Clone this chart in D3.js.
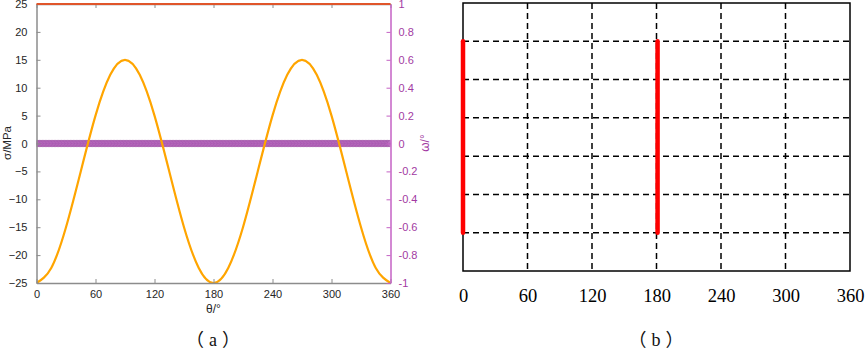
<!DOCTYPE html>
<html>
<head>
<meta charset="utf-8">
<script src="https://cdn.jsdelivr.net/npm/d3@7"></script>
<style>
  body { margin: 0; background: #fff; }
  svg { display: block; }
</style>
</head>
<body>
<svg id="chart" width="865" height="350"></svg>
<script>
// ---- data ----
const thetaTicks = [0, 60, 120, 180, 240, 300, 360];
const sigmaTicks = [-25, -20, -15, -10, -5, 0, 5, 10, 15, 20, 25];
const omegaTicks = [-1, -0.8, -0.6, -0.4, -0.2, 0, 0.2, 0.4, 0.6, 0.8, 1];

// orange stress curve, sampled every 15 degrees
const curveTheta = [0, 15, 30, 45, 60, 75, 90, 105, 120, 135, 150, 165, 180,
  195, 210, 225, 240, 255, 270, 285, 300, 315, 330, 345, 360];
const curveSigma = [-25, -22.3, -15, -5, 5, 12.3, 15, 12.3, 5, -5, -15, -22.3, -25,
  -22.3, -15, -5, 5, 12.3, 15, 12.3, 5, -5, -15, -22.3, -25];

// red-orange line along the top
const topTheta = [0, 360];
const topSigma = [25, 25];

// purple marker series (omega stays at 0)
const omegaStart = 0;
const omegaEnd = 360;
const omegaStep = 1.5;
const omegaValue = 0;

// panel (b)
const gridRows = [1, 2, 3, 4, 5, 6];
const redTheta = [0, 181];
const redFrom = [1, 1];
const redTo = [6, 6];

const svg = d3.select('#chart');

// ================= panel (a) =================
const a = { left: 36.5, right: 390.5, top: 4, bottom: 283 };
const xA = d3.scaleLinear().domain([0, 360]).range([a.left, a.right]);
const yA = d3.scaleLinear().domain([-25, 25]).range([a.bottom, a.top]);
const yW = d3.scaleLinear().domain([-1, 1]).range([a.bottom, a.top]);

const gray = '#8c8c8c';
const purpleAxis = '#c462c4';
const purpleText = '#a23aa2';
const sansFont = '"Liberation Sans", Arial, sans-serif';
const serifFont = '"Liberation Serif", "Times New Roman", serif';
const cjkFont = '"Noto Sans CJK SC", sans-serif';

// clip for the plot area of panel (a)
svg.append('defs').append('clipPath').attr('id', 'clipA')
  .append('rect')
  .attr('x', a.left).attr('y', a.top)
  .attr('width', a.right - a.left).attr('height', a.bottom - a.top);

const gA = svg.append('g');
const plotA = gA.append('g').attr('clip-path', 'url(#clipA)');

// Purple marker band at omega = 0
const omegaTheta = d3.range(omegaStart, omegaEnd + omegaStep / 2, omegaStep);
plotA.append('line')
  .attr('x1', xA(omegaStart)).attr('x2', xA(omegaEnd))
  .attr('y1', yW(omegaValue)).attr('y2', yW(omegaValue))
  .attr('stroke', '#7e2f8e').attr('stroke-width', 1.2);
plotA.append('g')
  .selectAll('circle')
  .data(omegaTheta)
  .join('circle')
  .attr('cx', (d) => xA(d))
  .attr('cy', yW(omegaValue))
  .attr('r', 3.3)
  .attr('fill', '#b86cbf')
  .attr('fill-opacity', 0.55)
  .attr('stroke', '#862c90')
  .attr('stroke-opacity', 0.45)
  .attr('stroke-width', 0.6);

// Orange curve
const curvePts = curveTheta.map((t, i) => [t, curveSigma[i]]);
plotA.append('path')
  .datum(curvePts)
  .attr('fill', 'none')
  .attr('stroke', '#ffa500')
  .attr('stroke-width', 2.2)
  .attr('d', d3.line().x((d) => xA(d[0])).y((d) => yA(d[1])).curve(d3.curveNatural));

// Bottom axis (ticks point inward)
const xAxisA = gA.append('g')
  .attr('transform', `translate(0,${a.bottom})`)
  .call(d3.axisBottom(xA).tickValues(thetaTicks).tickSizeInner(-4).tickSizeOuter(0).tickPadding(7));
xAxisA.select('.domain').attr('stroke', gray).attr('stroke-width', 1.5);
xAxisA.selectAll('.tick line').attr('stroke', gray);
xAxisA.selectAll('text').attr('fill', '#262626').style('font-family', sansFont).style('font-size', '11px');

// Top ticks
const topAxis = gA.append('g')
  .attr('transform', `translate(0,${a.top})`)
  .call(d3.axisTop(xA).tickValues(thetaTicks).tickSizeInner(-4).tickSizeOuter(0).tickFormat(''));
topAxis.select('.domain').attr('stroke', gray).attr('stroke-width', 1.5);
topAxis.selectAll('.tick line').attr('stroke', gray);

// Left axis
const yAxisA = gA.append('g')
  .attr('transform', `translate(${a.left},0)`)
  .call(d3.axisLeft(yA).tickValues(sigmaTicks).tickSizeInner(-4).tickSizeOuter(0).tickPadding(9));
yAxisA.select('.domain').attr('stroke', gray).attr('stroke-width', 1.5);
yAxisA.selectAll('.tick line').attr('stroke', gray);
yAxisA.selectAll('text').attr('fill', '#262626').style('font-family', sansFont).style('font-size', '11px');

// Right axis (omega)
const yAxisW = gA.append('g')
  .attr('transform', `translate(${a.right},0)`)
  .call(d3.axisRight(yW).tickValues(omegaTicks).tickSizeInner(-4).tickSizeOuter(0).tickPadding(8)
    .tickFormat((d) => (d === 0 ? '0' : String(+d.toFixed(1)))));
yAxisW.select('.domain').attr('stroke', purpleAxis).attr('stroke-width', 1.5);
yAxisW.selectAll('.tick line').attr('stroke', purpleAxis);
yAxisW.selectAll('text').attr('fill', purpleText).style('font-family', sansFont).style('font-size', '11px');

// Top line
gA.append('path')
  .datum(topTheta.map((t, i) => [t, topSigma[i]]))
  .attr('fill', 'none')
  .attr('stroke', '#e0552a')
  .attr('stroke-width', 2)
  .attr('d', d3.line().x((d) => xA(d[0])).y((d) => yA(d[1])));

// Axis labels
gA.append('text')
  .attr('transform', `translate(11,143) rotate(-90)`)
  .attr('text-anchor', 'middle')
  .style('font-family', sansFont).style('font-size', '11.5px')
  .attr('fill', '#262626')
  .text('σ/MPa');

gA.append('text')
  .attr('transform', `translate(429,143) rotate(-90)`)
  .attr('text-anchor', 'middle')
  .style('font-family', sansFont).style('font-size', '12px')
  .attr('fill', purpleText)
  .text('ω/°');

gA.append('text')
  .attr('x', (a.left + a.right) / 2)
  .attr('y', 313)
  .attr('text-anchor', 'middle')
  .style('font-family', sansFont).style('font-size', '12px')
  .attr('fill', '#262626')
  .text('θ/°');

// Panel captions with full-width parentheses
function caption(g, x, letter) {
  const t = g.append('text')
    .attr('x', x)
    .attr('y', 346)
    .attr('text-anchor', 'middle')
    .style('font-size', '18px')
    .attr('fill', '#111');
  t.append('tspan').style('font-family', cjkFont).text('（');
  t.append('tspan').attr('dx', 5).style('font-family', serifFont).text(letter);
  t.append('tspan').attr('dx', 5).style('font-family', cjkFont).text('）');
}
caption(gA, 213, 'a');

// ================= panel (b) =================
const b = { left: 463, right: 850, top: 3, bottom: 271 };
const xB = d3.scaleLinear().domain([0, 360]).range([b.left, b.right]);
const yB = d3.scaleLinear().domain([0, 7]).range([b.bottom, b.top]);

const gB = svg.append('g');

// dashed grid
gB.append('g')
  .selectAll('line')
  .data(thetaTicks.slice(1, -1))
  .join('line')
  .attr('x1', (d) => xB(d)).attr('x2', (d) => xB(d))
  .attr('y1', b.top).attr('y2', b.bottom)
  .attr('stroke', '#000').attr('stroke-width', 1.5)
  .attr('stroke-dasharray', '6,4');

gB.append('g')
  .selectAll('line')
  .data(gridRows)
  .join('line')
  .attr('x1', b.left).attr('x2', b.right)
  .attr('y1', (d) => yB(d)).attr('y2', (d) => yB(d))
  .attr('stroke', '#000').attr('stroke-width', 1.5)
  .attr('stroke-dasharray', '6,4');

// box
gB.append('rect')
  .attr('x', b.left).attr('y', b.top)
  .attr('width', b.right - b.left).attr('height', b.bottom - b.top)
  .attr('fill', 'none').attr('stroke', '#000').attr('stroke-width', 1.5);

// red bars
gB.append('g')
  .selectAll('line')
  .data(redTheta)
  .join('line')
  .attr('x1', (d) => xB(d)).attr('x2', (d) => xB(d))
  .attr('y1', (d, i) => yB(redFrom[i])).attr('y2', (d, i) => yB(redTo[i]))
  .attr('stroke', '#ff0000').attr('stroke-width', 4.5)
  .attr('stroke-linecap', 'round');

// tick labels
const xAxisB = gB.append('g')
  .attr('transform', `translate(0,${b.bottom})`)
  .call(d3.axisBottom(xB).tickValues(thetaTicks).tickSize(0).tickPadding(18));
xAxisB.select('.domain').remove();
xAxisB.selectAll('text').attr('fill', '#000')
  .style('font-family', serifFont).style('font-size', '18.5px');

caption(gB, 656, 'b');
</script>
</body>
</html>
